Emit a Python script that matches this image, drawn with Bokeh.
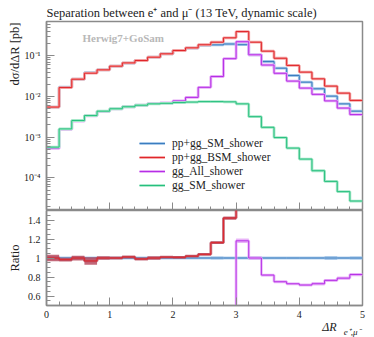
import numpy as np
from bokeh.plotting import figure
from bokeh.layouts import column
from bokeh.models import (ColumnDataSource, Range1d, FixedTicker, CustomJSTickFormatter,
                          Label, Legend, LegendItem, Title)
from bokeh.embed import file_html
from bokeh.resources import INLINE

# ---------------- data ----------------
edges = [0.0, 0.2, 0.4, 0.6, 0.8, 1.0, 1.2, 1.4, 1.6, 1.8, 2.0, 2.2, 2.4,
         2.6, 2.8, 3.0, 3.2, 3.4, 3.6, 3.8, 4.0, 4.2, 4.4, 4.6, 4.8, 5.0]

pp_gg_SM = [5.5e-3, 0.0169, 0.0266, 0.0386, 0.0452, 0.0556, 0.0663, 0.0775, 0.0924,
            0.111, 0.134, 0.154, 0.180, 0.186, 0.195, 0.188, 0.106, 0.0724, 0.0496,
            0.0328, 0.0225, 0.0155, 0.0102, 0.0066, 0.00436]
pp_gg_BSM = [5.5e-3, 0.0166, 0.0266, 0.0374, 0.0452, 0.0556, 0.0670, 0.0767, 0.0924,
             0.112, 0.135, 0.157, 0.187, 0.216, 0.277, 0.395, 0.216, 0.130, 0.087,
             0.058, 0.0397, 0.0272, 0.0180, 0.0121, 0.0080]
gg_All = [5.3e-4, 1.55e-3, 2.5e-3, 3.35e-3, 4.3e-3, 4.95e-3, 5.6e-3, 6.1e-3, 6.7e-3,
          7.0e-3, 7.8e-3, 9.5e-3, 0.0168, 0.031, 0.085, 0.222, 0.106, 0.0594, 0.0372,
          0.0239, 0.0161, 0.0113, 0.0078, 0.0052, 0.0036]
gg_SM = [5.7e-4, 1.6e-3, 2.57e-3, 3.4e-3, 4.36e-3, 5.0e-3, 5.6e-3, 6.1e-3, 6.6e-3,
         6.8e-3, 7.1e-3, 7.3e-3, 7.5e-3, 7.5e-3, 7.4e-3, 6.6e-3, 3.2e-3, 1.75e-3, 9.8e-4,
         5.4e-4, 2.9e-4, 1.5e-4, 8.2e-5, 4.6e-5, 2.7e-5]

# relative statistical uncertainties
err_SM = [0.02, 0.01, 0.01, 0.01, 0.01, 0.01, 0.01, 0.01, 0.01, 0.01, 0.01, 0.01, 0.01,
          0.015, 0.01, 0.01, 0.015, 0.01, 0.01, 0.01, 0.01, 0.01, 0.02, 0.01, 0.015]
err_BSM = [0.035, 0.02, 0.025, 0.04, 0.015, 0.01, 0.01, 0.01, 0.015, 0.01, 0.01, 0.01, 0.01,
           0.01, 0.01, 0.01, 0.01, 0.015, 0.015, 0.01, 0.015, 0.015, 0.015, 0.02, 0.02]
err_All = [0.04, 0.03, 0.03, 0.03, 0.03, 0.03, 0.03, 0.03, 0.03, 0.03, 0.04, 0.05, 0.05,
           0.04, 0.03, 0.02, 0.015, 0.015, 0.015, 0.015, 0.015, 0.02, 0.02, 0.02, 0.02]
err_ggSM = [0.03] * 25

names = ["pp+gg_SM_shower", "pp+gg_BSM_shower", "gg_All_shower", "gg_SM_shower"]
series = [pp_gg_SM, pp_gg_BSM, gg_All, gg_SM]
errors = [err_SM, err_BSM, err_All, err_ggSM]
line_colors = ["#3b7dbf", "#e0262a", "#b52ee6", "#26bf7e"]
band_colors = ["#a3c6e8", "#f4a3a3", "#e6aaf7", "#a6e8c9"]
ratio_band_colors = ["#a3c6e8", "#b84e62", "#e6aaf7", "#a6e8c9"]

FONT = "Liberation Serif"
FRAME = "#8a8a8a"
TXT = "#222222"
W = 374
minor_x = [0.2, 0.4, 0.6, 0.8, 1.2, 1.4, 1.6, 1.8, 2.2, 2.4, 2.6, 2.8,
           3.2, 3.4, 3.6, 3.8, 4.2, 4.4, 4.6, 4.8]


def style_axis(ax):
    ax.axis_line_color = FRAME
    ax.axis_line_width = 1.5
    ax.major_tick_line_color = FRAME
    ax.minor_tick_line_color = FRAME
    ax.major_tick_out = 0
    ax.minor_tick_out = 0
    ax.major_tick_in = 8
    ax.minor_tick_in = 4
    ax.major_label_text_font = FONT
    ax.major_label_text_font_size = "10px"
    ax.major_label_text_color = TXT
    ax.major_label_standoff = 6


# ---------------- main panel ----------------
p = figure(width=W, height=210, y_axis_type="log",
           x_range=Range1d(0, 5), y_range=Range1d(1.58e-5, 0.697),
           output_backend="svg", toolbar_location=None,
           min_border_left=46, min_border_right=12, min_border_top=21, min_border_bottom=0)
p.xgrid.visible = False
p.ygrid.visible = False
p.outline_line_color = FRAME
p.outline_line_width = 1.5

p.title.text = "Separation between e\u207A and \u03BC\u207B (13 TeV, dynamic scale)"
p.title.text_font = FONT
p.title.text_font_size = "12.5px"
p.title.text_font_style = "normal"
p.title.text_color = TXT
p.title.align = "left"
p.title.offset = 0
p.title.standoff = 4

items = []
x_step = np.array(edges)
for name, vals, col, bcol in zip(names, series, line_colors, band_colors):
    y = np.append(np.array(vals), vals[-1])
    src = ColumnDataSource(dict(x=x_step, y=y))
    under = p.step("x", "y", source=src, mode="after", line_color=bcol, line_width=2.8)
    ln = p.step("x", "y", source=src, mode="after", line_color=col, line_width=1.0)
    items.append(LegendItem(label=name, renderers=[under, ln]))

legend = Legend(items=items, location=(93, 18), padding=0, margin=0, spacing=0,
                label_height=14, glyph_height=14, glyph_width=26, label_standoff=7,
                border_line_alpha=0, background_fill_alpha=0,
                label_text_font=FONT, label_text_font_size="11.5px", label_text_color=TXT)
p.add_layout(legend)

yax = p.yaxis[0]
yax.ticker = FixedTicker(ticks=[1e-4, 1e-3, 1e-2, 1e-1],
                         minor_ticks=[k * 10.0 ** e for e in range(-5, 0) for k in range(2, 10)])
yax.formatter = CustomJSTickFormatter(code="""
const e = Math.round(Math.log10(tick));
const sup = {'-':'\\u207B','0':'\\u2070','1':'\\u00B9','2':'\\u00B2','3':'\\u00B3','4':'\\u2074','5':'\\u2075'};
return '10' + String(e).split('').map(c => sup[c]).join('');
""")
xax = p.xaxis[0]
xax.ticker = FixedTicker(ticks=[0, 1, 2, 3, 4, 5], minor_ticks=minor_x)
style_axis(xax)
style_axis(yax)
xax.formatter = CustomJSTickFormatter(code="return '';")
xax.major_label_text_font_size = "0px"
xax.major_label_standoff = 0

p.add_layout(Title(text="d\u03C3/d\u0394R [pb]", align="right", offset=1, standoff=0,
                   text_font=FONT, text_font_size="12.5px", text_font_style="normal",
                   text_color=TXT), "left")
p.add_layout(Label(x=36, y=173, x_units="screen", y_units="screen",
                   text="Herwig7+GoSam", text_font=FONT, text_font_size="11px",
                   text_font_style="bold", text_color="#b8b8b8",
                   text_align="left", text_baseline="middle"))

# ---------------- ratio panel ----------------
r = figure(width=W, height=127, x_range=p.x_range, y_range=Range1d(0.5, 1.5),
           output_backend="svg", toolbar_location=None,
           min_border_left=46, min_border_right=12, min_border_top=0, min_border_bottom=32)
r.xgrid.visible = False
r.ygrid.visible = False
r.outline_line_color = FRAME
r.outline_line_width = 1.5

ref = np.array(pp_gg_SM)
for vals, err, col, bcol in zip(series, errors, line_colors, ratio_band_colors):
    ratio = np.array(vals) / ref
    e = np.array(err)
    band = ColumnDataSource(dict(left=x_step[:-1], right=x_step[1:],
                                 top=ratio * (1 + e), bottom=ratio * (1 - e)))
    r.quad(left="left", right="right", top="top", bottom="bottom", source=band,
           fill_color=bcol, fill_alpha=0.85, line_alpha=0)
    src = ColumnDataSource(dict(x=x_step, y=np.append(ratio, ratio[-1])))
    r.step("x", "y", source=src, mode="after", line_color=bcol, line_width=2.8, line_alpha=0.8)
    r.step("x", "y", source=src, mode="after", line_color=col, line_width=1.0)

rx = r.xaxis[0]
rx.ticker = FixedTicker(ticks=[0, 1, 2, 3, 4, 5], minor_ticks=minor_x)
ry = r.yaxis[0]
ry.ticker = FixedTicker(ticks=[0.6, 0.8, 1.0, 1.2, 1.4],
                        minor_ticks=[0.5, 0.55, 0.65, 0.7, 0.75, 0.85, 0.9, 0.95, 1.05, 1.1,
                                     1.15, 1.25, 1.3, 1.35, 1.45])
ry.formatter = CustomJSTickFormatter(code="return Math.abs(tick - 1) < 1e-9 ? '1' : tick.toFixed(1);")
style_axis(rx)
style_axis(ry)
rx.major_label_standoff = 5

r.add_layout(Title(text="Ratio", align="center", offset=0, standoff=6,
                   text_font=FONT, text_font_size="12.5px", text_font_style="normal",
                   text_color=TXT), "left")
r.add_layout(Title(text="\u0394R", align="right", offset=26, standoff=-6,
                   text_font=FONT, text_font_size="12px", text_font_style="italic",
                   text_color=TXT), "below")
r.add_layout(Title(text="e\u207A,\u03BC\u207B", align="right", offset=2, standoff=-13,
                   text_font=FONT, text_font_size="9px", text_font_style="italic",
                   text_color=TXT), "below")

layout = column(p, r, spacing=0)
open("out.html", "w", encoding="utf-8").write(file_html(layout, INLINE))
